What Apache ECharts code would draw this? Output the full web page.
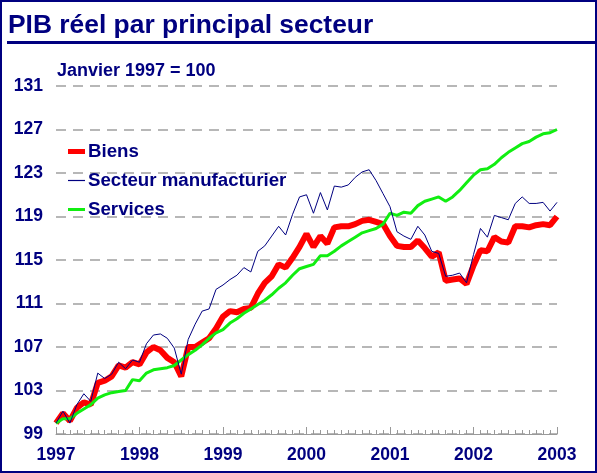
<!DOCTYPE html>
<html>
<head>
<meta charset="utf-8">
<script src="https://cdn.jsdelivr.net/npm/echarts@6/dist/echarts.min.js"></script>
<style>
html,body{margin:0;padding:0;background:#fff;}
#c{width:597px;height:473px;}
</style>
</head>
<body>
<div id="c"></div>
<script>
const titleText = 'PIB réel par principal secteur';
const subtitleText = 'Janvier 1997 = 100';
const yearLabels = ['1997','1998','1999','2000','2001','2002','2003'];
const seriesNames = ['Biens','Secteur manufacturier','Services'];
// Monthly values, Jan 1997 .. Jan 2003 (73 months)
const biens = [
100.0,100.9,100.2,101.4,101.9,101.7,103.7,103.9,104.3,105.3,105.1,105.6,
105.4,106.5,107.0,106.7,106.0,105.6,104.3,107.0,107.0,107.4,107.8,108.7,
109.8,110.3,110.2,110.5,110.6,111.9,112.9,113.5,114.6,114.3,115.2,116.2,
117.4,116.2,117.2,116.5,118.0,118.1,118.1,118.3,118.6,118.7,118.5,118.3,
117.2,116.3,116.2,116.2,116.8,116.1,115.3,115.7,113.1,113.2,113.3,112.8,
114.5,115.9,115.8,117.1,116.7,116.6,118.1,118.1,118.0,118.2,118.3,118.2,
119.0];
const manufacturier = [
100.0,101.1,100.0,101.7,102.7,102.0,104.6,104.1,104.5,105.6,105.0,105.8,
105.6,107.3,108.1,108.2,107.8,106.9,104.5,107.7,109.1,110.3,110.5,112.3,
112.7,113.2,113.6,114.3,113.9,115.8,116.3,117.2,118.1,117.3,119.2,120.8,
121.0,119.3,121.2,119.6,121.8,121.7,121.9,122.6,123.1,123.3,122.3,121.1,
119.9,117.6,117.2,116.9,118.1,117.3,115.8,115.6,113.5,113.6,113.8,112.9,
115.5,117.9,117.1,119.1,118.9,118.7,120.2,120.8,120.2,120.2,120.3,119.5,
120.3];
const services = [
100.0,100.4,100.4,100.9,101.3,101.7,102.3,102.6,102.8,102.9,103.0,104.0,
103.9,104.6,104.9,105.0,105.1,105.3,105.8,106.3,106.7,107.2,107.8,108.3,
108.6,109.2,109.6,110.1,110.5,110.9,111.3,111.8,112.4,112.9,113.6,114.2,
114.4,114.6,115.4,115.4,115.8,116.3,116.7,117.1,117.5,117.7,117.9,118.3,
119.3,119.1,119.4,119.3,120.0,120.4,120.6,120.8,120.4,120.8,121.4,122.1,
122.8,123.3,123.4,123.8,124.4,124.9,125.3,125.7,125.9,126.3,126.6,126.7,
127.0];

const NAVY = '#000080';
const RED = '#ff0000';
const GREEN = '#11ee11';
const FONT = '"Liberation Sans", Arial, sans-serif';
const toPairs = arr => arr.map((v, i) => [i, v]);

const chart = echarts.init(document.getElementById('c'), null, {renderer: 'canvas'});
chart.setOption({
  animation: false,
  backgroundColor: '#fff',
  title: [
    {text: titleText, left: 8, top: 13, padding: 0,
     textStyle: {color: NAVY, fontFamily: FONT, fontWeight: 'bold', fontSize: 26.4}},
    {text: subtitleText, left: 57, top: 62, padding: 0,
     textStyle: {color: NAVY, fontFamily: FONT, fontWeight: 'bold', fontSize: 18}}
  ],
  graphic: [
    {type: 'rect', shape: {x: 1, y: 1, width: 595, height: 471},
     style: {fill: 'none', stroke: NAVY, lineWidth: 2}, silent: true},
    {type: 'rect', shape: {x: 7, y: 41, width: 590, height: 3},
     style: {fill: NAVY}, silent: true}
  ],
  legend: {
    orient: 'vertical', left: 68, top: 142, itemGap: 10, padding: 0,
    itemWidth: 17, itemHeight: 14, symbolKeepAspect: true,
    textStyle: {color: NAVY, fontFamily: FONT, fontWeight: 'bold', fontSize: 18.7, lineHeight: 18, padding: [0,0,0,-2]},
    data: [
      {name: seriesNames[0], icon: 'path://M0,0H17V5H0Z', itemStyle: {color: RED}},
      {name: seriesNames[1], icon: 'path://M0,0H17V1.2H0Z', itemStyle: {color: NAVY}},
      {name: seriesNames[2], icon: 'path://M0,0H17V3H0Z', itemStyle: {color: GREEN}}
    ]
  },
  grid: {left: 56, right: 40, top: 86, bottom: 39, containLabel: false},
  xAxis: {
    type: 'value', min: 0, max: 72, interval: 12,
    axisLine: {show: true, lineStyle: {color: '#999', width: 1}},
    axisTick: {show: true, inside: true, length: 7, lineStyle: {color: '#999'}},
    minorTick: {show: true, splitNumber: 12, length: 4, lineStyle: {color: '#999'}},
    splitLine: {show: false},
    axisLabel: {
      margin: 12, color: NAVY, fontFamily: FONT, fontWeight: 'bold', fontSize: 17.5,
      formatter: v => yearLabels[Math.round(v / 12)]
    }
  },
  yAxis: {
    type: 'value', min: 99, max: 131, interval: 4,
    axisLine: {show: false}, axisTick: {show: false},
    splitLine: {show: true, lineStyle: {color: '#a0a0a0', width: 1.5, type: [10, 7]}},
    axisLabel: {margin: 13, color: NAVY, fontFamily: FONT, fontWeight: 'bold', fontSize: 17.5}
  },
  series: [
    {name: seriesNames[0], type: 'line', data: toPairs(biens), symbol: 'none', showSymbol: false,
     lineStyle: {color: RED, width: 6}, itemStyle: {color: RED}, z: 2},
    {name: seriesNames[2], type: 'line', data: toPairs(services), symbol: 'none', showSymbol: false,
     lineStyle: {color: GREEN, width: 3}, itemStyle: {color: GREEN}, z: 3},
    {name: seriesNames[1], type: 'line', data: toPairs(manufacturier), symbol: 'none', showSymbol: false,
     lineStyle: {color: NAVY, width: 1}, itemStyle: {color: NAVY}, z: 4}
  ]
});
</script>
</body>
</html>
